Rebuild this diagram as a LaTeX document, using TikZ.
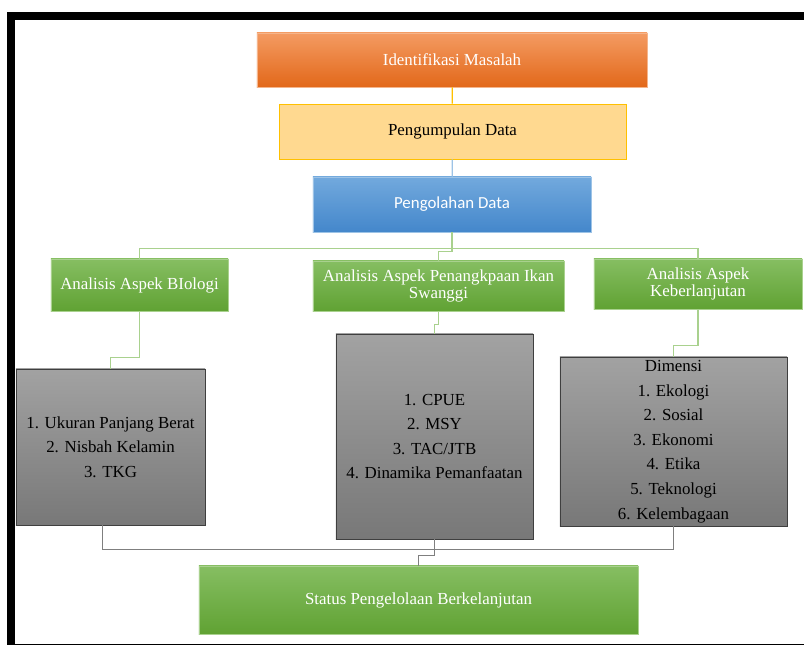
\documentclass[tikz,border=0pt]{standalone}
\usepackage{fontspec}
\setmainfont{Liberation Serif}
\newfontfamily\calibfont{Carlito}
\usepackage{tikz}
\usetikzlibrary{calc}
\usepackage{xcolor}

\definecolor{orTop}{HTML}{F49B62}
\definecolor{orBot}{HTML}{E2681A}
\definecolor{orLine}{HTML}{F5B58C}
\definecolor{yelFill}{HTML}{FFD990}
\definecolor{yelLine}{HTML}{FFC000}
\definecolor{bluTop}{HTML}{72A9DD}
\definecolor{bluBot}{HTML}{4487CB}
\definecolor{bluLine}{HTML}{9DC3E6}
\definecolor{grnTop}{HTML}{86BE62}
\definecolor{grnBot}{HTML}{60A233}
\definecolor{grnLine}{HTML}{A9D18E}
\definecolor{gryTop}{HTML}{A2A2A2}
\definecolor{gryBot}{HTML}{787878}
\definecolor{gryLine}{HTML}{3F3F3F}
\definecolor{gryCon}{HTML}{7F7F7F}

\begin{document}
\begin{tikzpicture}[x=0.025cm, y=-0.025cm,
  box/.style={rectangle, inner sep=1pt, align=center, line width=0.6pt,
    font=\fontsize{12}{12.5}\selectfont},
  orbox/.style={box, top color=orTop, bottom color=orBot, draw=orLine, text=white},
  yelbox/.style={box, fill=yelFill, draw=yelLine, text=black},
  blubox/.style={box, top color=bluTop, bottom color=bluBot, draw=bluLine, text=white},
  grnbox/.style={box, top color=grnTop, bottom color=grnBot, draw=grnLine, text=white},
  grybox/.style={box, top color=gryTop, bottom color=gryBot, draw=gryLine, text=black,
    font=\fontsize{12}{17.5}\selectfont},
  link/.style={line width=0.9pt}
]
\useasboundingbox (0,0) rectangle (804,645);
\draw[line width=5.7pt] (11,16) rectangle (812,648);

\node[orbox, minimum width=9.75cm, minimum height=1.35cm] (idm) at (452,60) {Identifikasi Masalah};
\node[yelbox, minimum width=8.675cm, minimum height=1.375cm] (pgd) at (452.5,131.5) {Pengumpulan Data};
\node[blubox, minimum width=6.95cm, minimum height=1.375cm] (pol) at (452,204.5) {\calibfont Pengolahan Data};

\node[grnbox, minimum width=4.425cm, minimum height=1.3cm] (bio) at (139.5,285) {Analisis Aspek BIologi};
\node[grnbox, minimum width=6.275cm, minimum height=1.25cm] (pnk) at (438.5,286) {Analisis Aspek Penangkpaan Ikan\\Swanggi};
\node[grnbox, minimum width=5.2cm, minimum height=1.25cm] (kbl) at (698,284) {Analisis Aspek\\Keberlanjutan};

\node[grybox, minimum width=4.725cm, minimum height=3.9cm] (gb1) at (110.5,447) {1. Ukuran Panjang Berat\\2. Nisbah Kelamin\\3. TKG};
\node[grybox, minimum width=4.925cm, minimum height=5.125cm] (gb2) at (434.5,436.5) {1. CPUE\\2. MSY\\3. TAC/JTB\\4. Dinamika Pemanfaatan};
\node[grybox, minimum width=5.675cm, minimum height=4.225cm] (gb3) at (673.5,441.5) {Dimensi\\1. Ekologi\\2. Sosial\\3. Ekonomi\\4. Etika\\5. Teknologi\\6. Kelembagaan};

\node[grnbox, minimum width=10.975cm, minimum height=1.7cm] (sts) at (418.5,600) {Status Pengelolaan Berkelanjutan};

% top chain
\draw[link, yelLine] (idm) -- (pgd);
\draw[link, bluLine] (pgd) -- (pol);

% split to the three aspects
\coordinate (split) at ($(pol.south)+(0,16)$);
\draw[link, grnLine] (pol.south) -- (split);
\draw[link, grnLine] (bio.north) |- (split) -| (kbl.north);
\draw[link, grnLine] (split) -- ++(0,3) -| (pnk.north);

\draw[link, grnLine] (bio.south) |- ($(gb1.north)+(0,-11)$) -- (gb1.north);
\draw[link, grnLine] (pnk.south) |- ($(gb2.north)+(0,-9)$) -- (gb2.north);
\draw[link, grnLine] (kbl.south) |- ($(gb3.north)+(0,-11)$) -- (gb3.north);

% join to status
\coordinate (join) at ($(gb2.south)+(0,10)$);
\draw[link, gryCon] ($(gb1.south)+(-8,0)$) |- (join) -| (gb3.south);
\draw[link, gryCon] (gb2.south) -- (join) -- ++(0,6) -| (sts.north);
\end{tikzpicture}
\end{document}
